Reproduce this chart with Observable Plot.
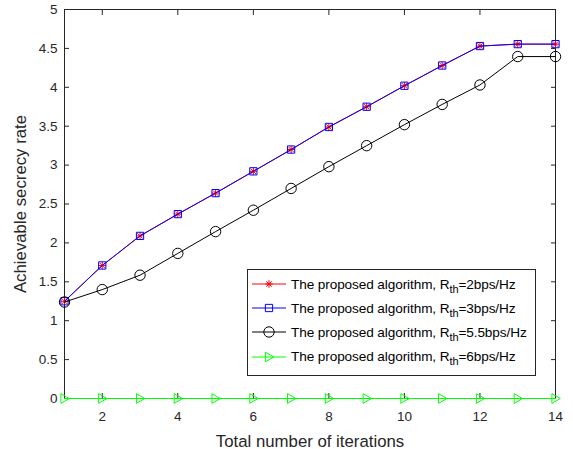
<!DOCTYPE html>
<html>
<head>
<meta charset="utf-8">
<script src="https://cdn.jsdelivr.net/npm/d3@7"></script>
<script src="https://cdn.jsdelivr.net/npm/@observablehq/plot@0.6"></script>
<style>
  body { margin: 0; background: #fff; }
  #wrap { position: relative; width: 573px; height: 449px; font-family: "Liberation Sans", Arial, sans-serif; }
  #legend { position: absolute; left: 247px; top: 269px; width: 287px; height: 105px; border: 1px solid #262626; background: #fff; }
  .row { position: absolute; left: 0; height: 20px; display: flex; align-items: center; }
  .row svg { display: block; }
  .row span { font-size: 13.6px; color: #000; margin-left: 3px; white-space: nowrap; letter-spacing: -0.1px; }
  .row sub { font-size: 11px; vertical-align: -4px; line-height: 0; }
</style>
</head>
<body>
<div id="wrap"></div>
<script>
const iterations = [1,2,3,4,5,6,7,8,9,10,11,12,13,14];
const rate2bps   = [1.25,1.71,2.09,2.37,2.64,2.92,3.20,3.49,3.75,4.02,4.28,4.53,4.555,4.555];
const rate3bps   = [1.25,1.71,2.09,2.37,2.64,2.92,3.20,3.49,3.75,4.02,4.28,4.53,4.555,4.555];
const rate55bps  = [1.24,1.40,1.585,1.865,2.145,2.42,2.70,2.98,3.25,3.52,3.78,4.03,4.395,4.395];
const rate6bps   = [0,0,0,0,0,0,0,0,0,0,0,0,0,0];
const seriesNames = ["2bps/Hz","3bps/Hz","5.5bps/Hz","6bps/Hz"];
const seriesColors = ["#ff0000","#0000ff","#000000","#00ff00"];
const xTicks = [2,4,6,8,10,12,14];
const yTicks = [0,0.5,1,1.5,2,2.5,3,3.5,4,4.5,5];

const triRight = {
  draw(context, size) {
    const r = Math.sqrt(size / Math.PI);
    context.moveTo(-r * 0.75, -r);
    context.lineTo(r, 0);
    context.lineTo(-r * 0.75, r);
    context.closePath();
  }
};
const star8 = {
  draw(context, size) {
    const r = Math.sqrt(size / Math.PI);
    const d = r * Math.SQRT1_2;
    context.moveTo(-r, 0); context.lineTo(r, 0);
    context.moveTo(0, -r); context.lineTo(0, r);
    context.moveTo(-d, -d); context.lineTo(d, d);
    context.moveTo(-d, d); context.lineTo(d, -d);
  }
};
const symbols = [star8, d3.symbolSquare, d3.symbolCircle, triRight];
const radii = [3.8, 4.1, 5.2, 4.8];
const allSeries = [rate2bps, rate3bps, rate55bps, rate6bps];
const FONT = "'Liberation Sans', Arial, sans-serif";

const marks = [Plot.frame({stroke: "#262626"})];
// tick marks (inside, all four sides)
marks.push(Plot.axisX({anchor: "bottom", ticks: xTicks, tickSize: -5, tickFormat: () => "", label: null, stroke: "#262626"}));
marks.push(Plot.axisX({anchor: "top", ticks: xTicks, tickSize: -5, tickFormat: () => "", label: null, stroke: "#262626"}));
marks.push(Plot.axisY({anchor: "left", ticks: yTicks, tickSize: -5, tickFormat: () => "", label: null, stroke: "#262626"}));
marks.push(Plot.axisY({anchor: "right", ticks: yTicks, tickSize: -5, tickFormat: () => "", label: null, stroke: "#262626"}));
// tick labels
marks.push(Plot.axisX({anchor: "bottom", ticks: xTicks, tickSize: 0, tickPadding: 13, fill: "#262626",
  fontSize: 13.5, fontFamily: FONT, label: null}));
marks.push(Plot.axisY({anchor: "left", ticks: yTicks, tickSize: 0, tickPadding: 7, fill: "#262626", tickFormat: d => String(d),
  fontSize: 13.5, fontFamily: FONT, label: null}));
// axis titles
marks.push(Plot.axisX({anchor: "bottom", ticks: [], tickSize: 0, fill: "#262626", fontSize: 16.8, fontFamily: FONT,
  label: "Total number of iterations", labelAnchor: "center", labelArrow: "none", labelOffset: 48}));
marks.push(Plot.axisY({anchor: "left", ticks: [], tickSize: 0, fill: "#262626", fontSize: 16.8, fontFamily: FONT,
  label: "Achievable secrecy rate", labelAnchor: "center", labelArrow: "none", labelOffset: 50}));

allSeries.forEach((vals, i) => {
  const data = iterations.map((x, j) => ({x, y: vals[j]}));
  marks.push(Plot.line(data, {x: "x", y: "y", stroke: seriesColors[i], strokeWidth: 1}));
  marks.push(Plot.dot(data, {x: "x", y: "y", stroke: seriesColors[i], symbol: () => symbols[i], r: radii[i], fill: "none", strokeWidth: 1}));
});

const chart = Plot.plot({
  width: 573, height: 449,
  marginLeft: 64, marginRight: 18, marginTop: 9, marginBottom: 51,
  x: {domain: [1, 14]},
  y: {domain: [0, 5]},
  symbol: {type: "identity"},
  style: {fontFamily: FONT, fontSize: "14px", color: "#262626", background: "#fff"},
  marks
});
const wrap = document.getElementById("wrap");
wrap.appendChild(chart);

// legend
const legend = document.createElement("div");
legend.id = "legend";
seriesNames.forEach((name, i) => {
  const row = document.createElement("div");
  row.className = "row";
  row.style.top = (4 + i * 24.2) + "px";
  const svg = d3.create("svg").attr("width", 40).attr("height", 20);
  svg.append("line").attr("x1", 4).attr("x2", 38).attr("y1", 10).attr("y2", 10).attr("stroke", seriesColors[i]);
  svg.append("path").attr("transform", "translate(21,10)")
    .attr("d", d3.symbol(symbols[i], Math.PI * radii[i] * radii[i])())
    .attr("fill", "none").attr("stroke", seriesColors[i]);
  row.appendChild(svg.node());
  const span = document.createElement("span");
  span.innerHTML = "The proposed algorithm, R<sub>th</sub>=" + name;
  row.appendChild(span);
  legend.appendChild(row);
});
wrap.appendChild(legend);
</script>
</body>
</html>
